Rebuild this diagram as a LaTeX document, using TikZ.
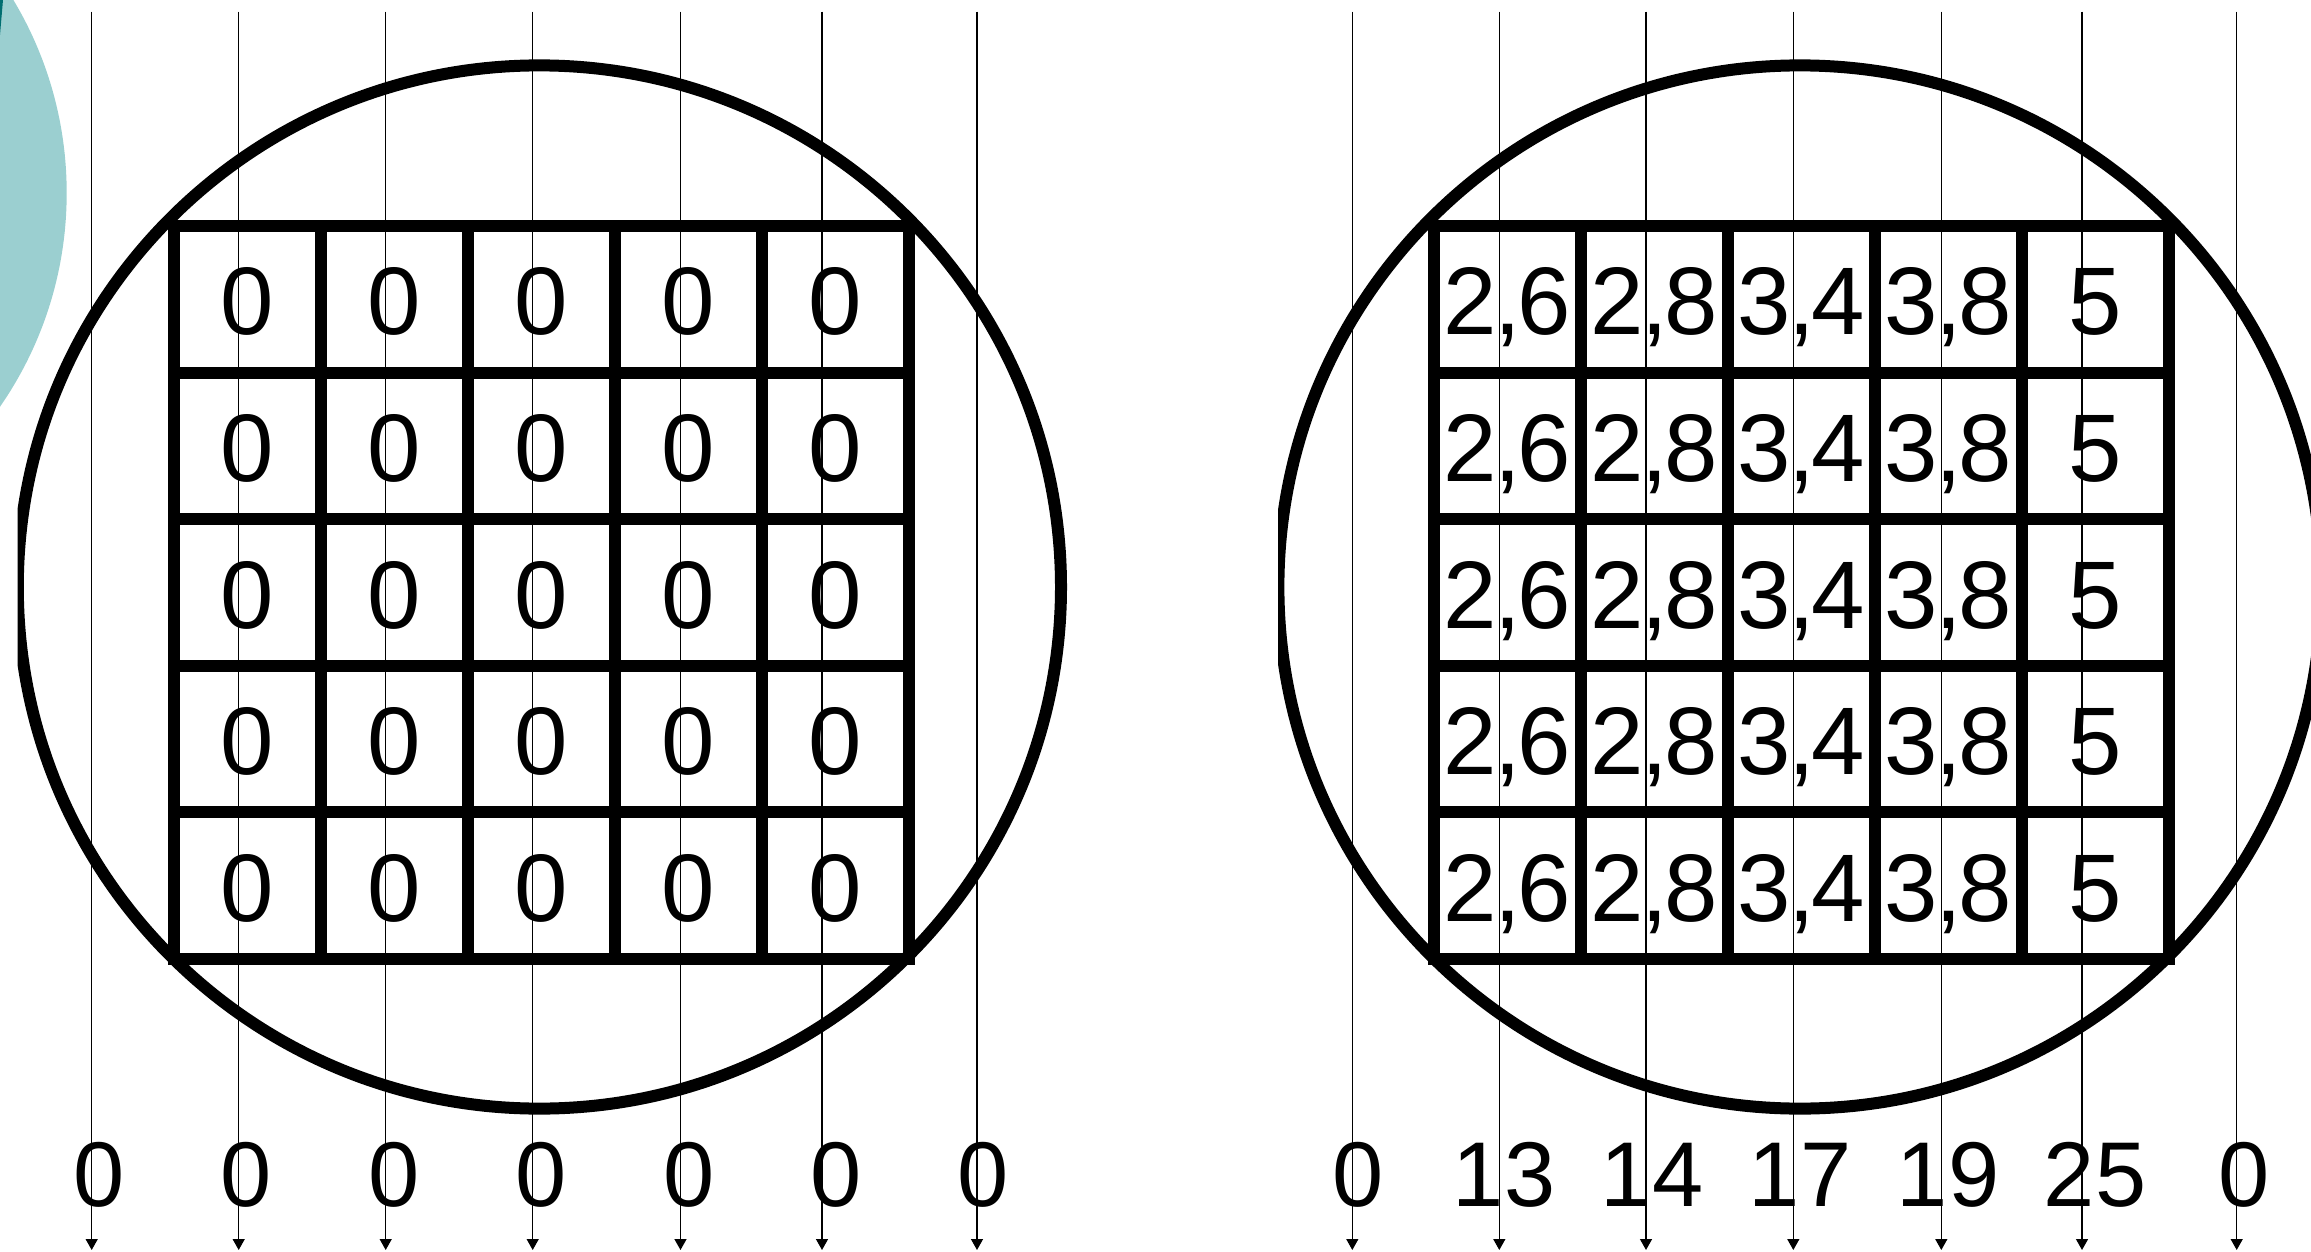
\documentclass[tikz,border=0pt]{standalone}
\usepackage{fontspec}
\setmainfont{Liberation Sans}
\usetikzlibrary{arrows.meta}
\definecolor{tealfill}{RGB}{155,207,208}
\definecolor{tealdark}{RGB}{0,110,112}

\begin{document}
\begin{tikzpicture}[x=1pt,y=-1pt,
  ring/.style={line width=12pt},
  gridline/.style={line width=12pt, line cap=rect},
  ray/.style={line width=1.4pt, -{Triangle[length=11pt,width=12pt]}},
  cellnum/.style={anchor=base, inner sep=0pt, font=\fontsize{96}{96}\selectfont},
  outnum/.style={anchor=base, inner sep=0pt, font=\fontsize{92}{92}\selectfont}]

\useasboundingbox (0,0) rectangle (2311,1252);

% background disc in the top-left corner
\begin{scope}
  \clip (0,0) rectangle (2311,1252);
  \fill[tealfill] (-309,193) circle[radius=375.7];
  \fill[tealdark] (0,0) -- (3,0) -- (0,35) -- cycle;
\end{scope}

% the two wafers, each cut at its left stroke
\begin{scope}
  \clip (17.7,0) rectangle (1278,1252);
  \draw[ring] (539.4,587) circle[radius=521.6];
\end{scope}
\begin{scope}
  \clip (1278,0) rectangle (2311,1252);
  \draw[ring] (1800,587) circle[radius=521.6];
\end{scope}

% 5x5 grids
\foreach \gx in {174,1434} {
  \foreach \i in {0,...,5}
    \draw[gridline] (\gx+147*\i,226) -- (\gx+147*\i,959);
  \foreach \j in {0,...,5}
    \draw[gridline] (\gx,226+146.6*\j) -- (\gx+735,226+146.6*\j);
}

% cell values, left grid
\foreach \j in {1,...,5} {
  \foreach \i in {1,...,5}
    \node[cellnum] (L-\j-\i) at (174+147*\i-73.5, 226+146.6*\j-73.3+35.5) {0};
}

% cell values, right grid
\foreach \j in {1,...,5} {
  \node[cellnum] (R-\j-1) at (1434+73.5, 226+146.6*\j-73.3+35.5) {2\kern-3pt,\kern-3pt6};
  \node[cellnum] (R-\j-2) at (1434+220.5, 226+146.6*\j-73.3+35.5) {2\kern-3pt,\kern-3pt8};
  \node[cellnum] (R-\j-3) at (1434+367.5, 226+146.6*\j-73.3+35.5) {3\kern-3pt,\kern-3pt4};
  \node[cellnum] (R-\j-4) at (1434+514.5, 226+146.6*\j-73.3+35.5) {3\kern-3pt,\kern-3pt8};
  \node[cellnum] (R-\j-5) at (1434+661.5, 226+146.6*\j-73.3+35.5) {5};
}

% vertical rays with their arrow tips
\foreach \k/\x in {1/91.7, 2/238.7, 3/385.7, 4/532.7, 5/680.5, 6/822, 7/977} {
  \coordinate (Lt\k) at (\x,11.7);
  \coordinate (Lb\k) at (\x,1250);
  \draw[ray] (Lt\k) -- (Lb\k);
}
\foreach \k/\x in {1/1352.3, 2/1499.3, 3/1646, 4/1793.3, 5/1941.3, 6/2082, 7/2236.7} {
  \coordinate (Rt\k) at (\x,11.7);
  \coordinate (Rb\k) at (\x,1250);
  \draw[ray] (Rt\k) -- (Rb\k);
}

% sums under the rays
\foreach \k/\x in {1/98.7, 2/246, 3/394, 4/541.5, 5/689, 6/836, 7/983}
  \node[outnum] (Ls\k) at (\x,1206) {0};
\foreach \k/\x/\t in {1/1358/0, 2/1504/13, 3/1652/14, 4/1800/17, 5/1948/19, 6/2095/25, 7/2244/0}
  \node[outnum] (Rs\k) at (\x,1206) {\t};

\end{tikzpicture}
\end{document}
